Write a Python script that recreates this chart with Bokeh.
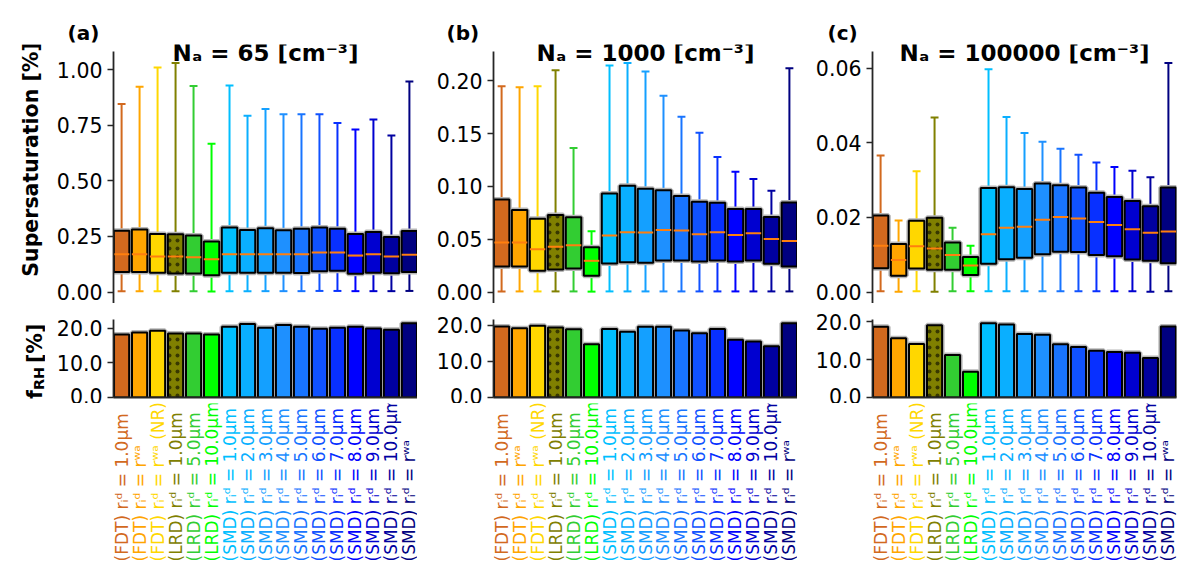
from math import pi

from bokeh.core.properties import value
from bokeh.embed import file_html
from bokeh.layouts import column, row
from bokeh.models import (ColumnDataSource, FixedTicker, Label, NumeralTickFormatter,
                          Range1d)
from bokeh.plotting import figure
from bokeh.resources import INLINE
from bokeh.transform import dodge

FONT = "DejaVu Sans"

labels = [
    "(FDT) rᵢᵈ = 1.0μm", "(FDT) rᵢᵈ = rʷᵃ", "(FDT) rᵢᵈ = rʷᵃ (NR)",
    "(LRD) rᵢᵈ = 1.0μm", "(LRD) rᵢᵈ = 5.0μm", "(LRD) rᵢᵈ = 10.0μm",
    "(SMD) rᵢᵈ = 1.0μm", "(SMD) rᵢᵈ = 2.0μm", "(SMD) rᵢᵈ = 3.0μm",
    "(SMD) rᵢᵈ = 4.0μm", "(SMD) rᵢᵈ = 5.0μm", "(SMD) rᵢᵈ = 6.0μm",
    "(SMD) rᵢᵈ = 7.0μm", "(SMD) rᵢᵈ = 8.0μm", "(SMD) rᵢᵈ = 9.0μm",
    "(SMD) rᵢᵈ = 10.0μm", "(SMD) rᵢᵈ = rʷᵃ",
]
colors = [
    "#D2691E", "#FFA500", "#FFD700", "#808000", "#32CD32", "#00FF00",
    "#00BFFF", "#0AAFFF", "#14A0FF", "#1E90FF", "#1874FF", "#1052FF",
    "#0830FF", "#0000FF", "#0000D0", "#0000A0", "#000080",
]
hatches = [" ", " ", " ", ".", " ", " ", " ", " ", " ", " ", " ", " ", " ", " ", " ", " ", " "]

panel_tags = ["(a)", "(b)", "(c)"]
panel_titles = ["Nₐ = 65 [cm⁻³]", "Nₐ = 1000 [cm⁻³]", "Nₐ = 100000 [cm⁻³]"]

# supersaturation box statistics [%]
hi_a = [0.846, 0.924, 1.010, 1.031, 0.927, 0.667, 0.930, 0.793, 0.824, 0.800, 0.800, 0.800, 0.761, 0.731, 0.777, 0.704, 0.948]
q3_a = [0.276, 0.282, 0.261, 0.260, 0.255, 0.228, 0.290, 0.279, 0.287, 0.278, 0.285, 0.290, 0.285, 0.261, 0.270, 0.248, 0.275]
med_a = [0.170, 0.170, 0.160, 0.160, 0.157, 0.148, 0.170, 0.170, 0.170, 0.170, 0.170, 0.178, 0.178, 0.164, 0.170, 0.160, 0.168]
q1_a = [0.090, 0.090, 0.087, 0.084, 0.084, 0.076, 0.087, 0.087, 0.087, 0.087, 0.086, 0.094, 0.096, 0.082, 0.087, 0.085, 0.090]
lo_a = [0.004, 0.004, 0.004, 0.004, 0.004, 0.003, 0.004, 0.004, 0.004, 0.004, 0.004, 0.005, 0.005, 0.004, 0.004, 0.004, 0.005]

hi_b = [0.195, 0.194, 0.195, 0.210, 0.1365, 0.0575, 0.2145, 0.217, 0.209, 0.186, 0.166, 0.151, 0.128, 0.114, 0.107, 0.096, 0.212]
q3_b = [0.0877, 0.0777, 0.0695, 0.0730, 0.0708, 0.0425, 0.0934, 0.1006, 0.0978, 0.0965, 0.0909, 0.0855, 0.0846, 0.0786, 0.0786, 0.0711, 0.0849]
med_b = [0.0469, 0.0469, 0.0406, 0.0428, 0.0443, 0.0296, 0.0535, 0.0566, 0.0563, 0.0588, 0.0582, 0.0547, 0.0566, 0.0541, 0.0557, 0.0503, 0.0484]
q1_b = [0.0242, 0.0242, 0.0201, 0.0214, 0.0223, 0.0154, 0.0270, 0.0283, 0.0277, 0.0299, 0.0299, 0.0290, 0.0299, 0.0290, 0.0299, 0.0267, 0.0242]
lo_b = [0.0006, 0.0006, 0.0006, 0.0006, 0.0006, 0.0004, 0.0006, 0.0006, 0.0006, 0.0006, 0.0006, 0.0006, 0.0006, 0.0006, 0.0006, 0.0006, 0.0006]

hi_c = [0.0366, 0.0192, 0.0324, 0.0468, 0.0172, 0.0124, 0.0597, 0.0469, 0.0426, 0.0403, 0.0384, 0.0368, 0.0347, 0.0335, 0.0325, 0.0308, 0.0614]
q3_c = [0.0205, 0.0129, 0.0191, 0.0199, 0.0133, 0.0094, 0.0279, 0.0281, 0.0276, 0.0291, 0.0286, 0.0280, 0.0266, 0.0255, 0.0244, 0.0230, 0.0280]
med_c = [0.0124, 0.0086, 0.0123, 0.0117, 0.0099, 0.0071, 0.0155, 0.0172, 0.0175, 0.0194, 0.0201, 0.0197, 0.0188, 0.0180, 0.0168, 0.0159, 0.0162]
q1_c = [0.0064, 0.0044, 0.0063, 0.0060, 0.0060, 0.0046, 0.0076, 0.0088, 0.0092, 0.0101, 0.0108, 0.0107, 0.0099, 0.0096, 0.0087, 0.0084, 0.0077]
lo_c = [0.0002, 0.0001, 0.0002, 0.0001, 0.0002, 0.0002, 0.0002, 0.0002, 0.0002, 0.0002, 0.0002, 0.0002, 0.0002, 0.0002, 0.0002, 0.0001, 0.0002]

# f_RH [%]
frh_a = [18.25, 18.8, 19.3, 18.5, 18.5, 18.2, 20.5, 21.3, 20.2, 21.0, 20.5, 19.9, 20.2, 20.5, 20.0, 19.6, 21.5]
frh_b = [19.7, 19.2, 19.9, 19.4, 18.9, 14.8, 19.0, 18.2, 19.6, 19.6, 18.6, 17.8, 19.0, 16.0, 15.5, 14.2, 20.6]
frh_c = [18.65, 15.6, 14.1, 19.0, 11.2, 6.8, 19.55, 19.2, 16.7, 16.5, 14.0, 13.3, 12.3, 12.0, 11.8, 10.4, 18.7]

boxes = [(hi_a, q3_a, med_a, q1_a, lo_a), (hi_b, q3_b, med_b, q1_b, lo_b), (hi_c, q3_c, med_c, q1_c, lo_c)]
frhs = [frh_a, frh_b, frh_c]
ticks_top = [[0, 0.25, 0.5, 0.75, 1.0], [0, 0.05, 0.1, 0.15, 0.2], [0, 0.02, 0.04, 0.06]]

# layout (page pixels)
STRIP_H = 44          # strip with the panel tags
LEFT_W = 45           # strip with the y-axis titles
borders_left = [68, 76, 75]
borders_right = [0, 0, 8]
tag_x = [67, 446, 827]
FRAME_W = 304
TOP_H = 259           # top frame, its spine ends 7px below the frame top
SPINE_GAP = 7
BOT_H = 78
LAB_H = 176
LAB_START = 561       # page y where the rotated tick texts begin
SPINE = "#262626"


def style_yaxis(p, ticks, fmt):
    ax = p.yaxis[0]
    ax.ticker = FixedTicker(ticks=ticks)
    ax.formatter = NumeralTickFormatter(format=fmt)
    ax.axis_line_color = SPINE
    ax.axis_line_width = 1.8
    ax.major_tick_line_color = SPINE
    ax.major_tick_line_width = 1.6
    ax.major_tick_out = 6
    ax.major_tick_in = 0
    ax.minor_tick_line_color = None
    ax.major_label_text_font = FONT
    ax.major_label_text_font_size = "20.5px"
    ax.major_label_text_color = "black"
    ax.major_label_standoff = 5


def bare(p):
    p.grid.visible = False
    p.outline_line_color = None


total_w = LEFT_W + sum(borders_left) + 3 * FRAME_W + sum(borders_right)

# panel tags
strip = figure(width=total_w, height=STRIP_H, x_range=Range1d(0, total_w),
               y_range=Range1d(STRIP_H, 0), x_axis_type=None, y_axis_type=None,
               output_backend="svg", toolbar_location=None, min_border=0)
bare(strip)
strip.text(x=tag_x, y=[32.3] * 3, text=panel_tags, text_align="left",
           text_baseline="middle", text_font=value(FONT), text_font_size="20px",
           text_font_style="bold", text_color="black")

# y-axis titles
body_h = TOP_H + 16 + BOT_H + 6 + LAB_H
left = figure(width=LEFT_W, height=body_h, x_range=Range1d(0, LEFT_W),
              y_range=Range1d(STRIP_H + body_h, STRIP_H), x_axis_type=None,
              y_axis_type=None, output_backend="svg", toolbar_location=None, min_border=0)
bare(left)
left.text(x=[30], y=[159], text=["Supersaturation [%]"], angle=pi / 2,
          text_align="center", text_baseline="middle", text_font=value(FONT),
          text_font_size="20.5px", text_font_style="bold", text_color="black")
left.text(x=[34.2, 38.9, 34.2], y=[398.5, 389.6, 362.5], text=["f", "RH", "[%]"],
          text_font_size=["20.5px", "14.5px", "20.5px"], angle=pi / 2, text_align="left",
          text_baseline="middle", text_font=value(FONT), text_font_style="bold",
          text_color="black")

columns = [left]
for i in range(3):
    hi, q3, med, q1, lo = boxes[i]
    x = list(range(len(labels)))
    src = ColumnDataSource(dict(x=x, hi=hi, q3=q3, med=med, q1=q1, lo=lo,
                                color=colors, hatch=hatches, frh=frhs[i], label=labels))
    xr = Range1d(-0.45, 16.45)
    span = max(hi)
    ylo, yhi = -0.05 * span, 1.05 * span
    per_px = (yhi - ylo) / (TOP_H - SPINE_GAP)
    w = borders_left[i] + FRAME_W + borders_right[i]

    top = figure(width=w, height=TOP_H, x_range=xr,
                 y_range=Range1d(ylo, yhi + SPINE_GAP * per_px),
                 x_axis_type=None, output_backend="svg", toolbar_location=None,
                 min_border_left=borders_left[i], min_border_right=borders_right[i],
                 min_border_top=0, min_border_bottom=0)
    bare(top)
    style_yaxis(top, ticks_top[i], "0.00")
    top.yaxis[0].bounds = (ylo, yhi)

    top.segment(x0="x", y0="lo", x1="x", y1="q1", line_color="color", line_width=2, source=src)
    top.segment(x0="x", y0="q3", x1="x", y1="hi", line_color="color", line_width=2, source=src)
    top.segment(x0=dodge("x", -0.22), y0="hi", x1=dodge("x", 0.22), y1="hi",
                line_color="color", line_width=2, source=src)
    top.segment(x0=dodge("x", -0.22), y0="lo", x1=dodge("x", 0.22), y1="lo",
                line_color="color", line_width=2, source=src)
    top.vbar(x="x", width=0.86, bottom="q1", top="q3", fill_color=None,
             line_color="#b8b8b8", line_width=5, source=src)
    top.vbar(x="x", width=0.86, bottom="q1", top="q3", fill_color="color",
             line_color="black", line_width=2, hatch_pattern="hatch",
             hatch_color="#383800", hatch_scale=8, hatch_weight=1, source=src)
    top.segment(x0=dodge("x", -0.43), y0="med", x1=dodge("x", 0.43), y1="med",
                line_color="#FF7F0E", line_width=2, source=src)

    top.add_layout(Label(x=FRAME_W / 2, y=TOP_H - 8, x_units="screen", y_units="screen",
                         text=panel_titles[i], text_align="center", text_baseline="middle",
                         text_font=FONT, text_font_size="23px", text_font_style="bold",
                         text_color="black"))

    bot = figure(width=w, height=16 + BOT_H + 6, x_range=xr,
                 y_range=Range1d(0, 1.05 * max(frhs[i])),
                 output_backend="svg", toolbar_location=None,
                 min_border_left=borders_left[i], min_border_right=borders_right[i],
                 min_border_top=16, min_border_bottom=6)
    bare(bot)
    style_yaxis(bot, [0, 10, 20], "0.0")
    xa = bot.xaxis[0]
    xa.ticker = FixedTicker(ticks=[])
    xa.axis_line_color = SPINE
    xa.axis_line_width = 1.8
    xa.major_tick_line_color = None
    xa.minor_tick_line_color = None
    bot.vbar(x="x", width=0.84, top="frh", bottom=0, fill_color=None,
             line_color="#b8b8b8", line_width=5, source=src)
    bot.vbar(x="x", width=0.84, top="frh", bottom=0, fill_color="color",
             line_color="black", line_width=2, hatch_pattern="hatch",
             hatch_color="#383800", hatch_scale=8, hatch_weight=1, source=src)

    lab_top = STRIP_H + TOP_H + 16 + BOT_H + 6
    lab = figure(width=w, height=LAB_H, x_range=xr, y_range=Range1d(0, 1),
                 x_axis_type=None, y_axis_type=None, output_backend="svg",
                 toolbar_location=None, min_border_left=borders_left[i],
                 min_border_right=borders_right[i], min_border_top=0, min_border_bottom=0)
    bare(lab)
    lab.text(x="x", y=0, text="label", text_color="color", angle=pi / 2,
             text_align="left", text_baseline="middle",
             y_offset=LAB_START - (lab_top + LAB_H),
             text_font=value(FONT), text_font_size="17px", source=src)

    columns.append(column(top, bot, lab, spacing=0))

p = column(strip, row(*columns, spacing=0), spacing=0)

open("out.html", "w").write(file_html(p, INLINE))
